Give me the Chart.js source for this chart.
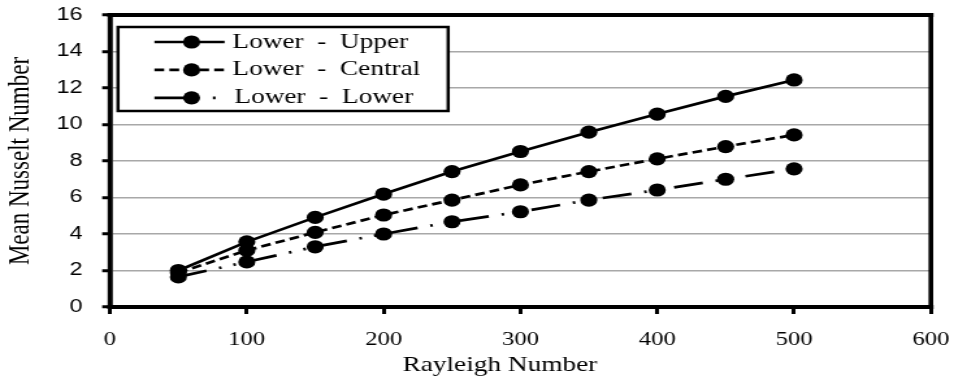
<!DOCTYPE html>
<html><head><meta charset="utf-8">
<script src="https://cdn.jsdelivr.net/npm/chart.js@4/dist/chart.umd.min.js"></script>
<style>
html,body{margin:0;padding:0;background:#fff;overflow:hidden}
#wrap{width:734px;height:378px;transform:scaleX(1.29973);transform-origin:0 0}
canvas{display:block}
</style></head><body>
<div id="wrap"><canvas id="c" width="734" height="378"></canvas></div>
<script>
// ---- data ----
const rayleigh     = [50, 100, 150, 200, 250, 300, 350, 400, 450, 500];
const lowerUpper   = [2.00, 3.57, 4.91, 6.19, 7.42, 8.52, 9.58, 10.57, 11.54, 12.44];
const lowerCentral = [1.88, 3.10, 4.09, 5.04, 5.86, 6.69, 7.42, 8.12, 8.79, 9.43];
const lowerLower   = [1.65, 2.47, 3.30, 4.00, 4.67, 5.22, 5.86, 6.41, 7.00, 7.57];
const seriesNames  = ['Lower  -  Upper', 'Lower  -  Central', 'Lower  -  Lower'];
const xAxisTitle = 'Rayleigh Number';
const yAxisTitle = 'Mean Nusselt Number';
const xMin = 0, xMax = 600, xStep = 100;
const yMin = 0, yMax = 16, yStep = 2;

const toPts = ys => rayleigh.map((x, i) => ({x, y: ys[i]}));

const serif = '"Liberation Serif", "Times New Roman", serif';
const sans = '"Liberation Sans", Arial, sans-serif';

const legendDash = [[], [7.5, 4], [33, 12, 2, 20]];

const framePlugin = {
  id: 'frame',
  beforeDatasetsDraw(chart) {
    const {ctx, chartArea: a} = chart;
    ctx.save();
    ctx.strokeStyle = '#000';
    ctx.lineCap = 'square';
    ctx.lineWidth = 4;
    ctx.beginPath(); ctx.moveTo(a.left, a.top); ctx.lineTo(a.right, a.top); ctx.stroke();
    ctx.beginPath(); ctx.moveTo(a.left, a.bottom); ctx.lineTo(a.right, a.bottom); ctx.stroke();
    ctx.lineWidth = 3.6;
    ctx.beginPath(); ctx.moveTo(a.left, a.top); ctx.lineTo(a.left, a.bottom); ctx.stroke();
    ctx.beginPath(); ctx.moveTo(a.right, a.top); ctx.lineTo(a.right, a.bottom); ctx.stroke();
    ctx.restore();
  }
};

const boxLegend = {
  id: 'boxLegend',
  afterDatasetsDraw(chart) {
    const {ctx, chartArea: a} = chart;
    const x0 = a.left + 6.2, y0 = a.top + 12, w = 254, h = 84;
    ctx.save();
    ctx.fillStyle = '#fff';
    ctx.fillRect(x0, y0, w, h);
    ctx.lineWidth = 2.5;
    ctx.strokeStyle = '#000';
    ctx.strokeRect(x0, y0, w, h);
    chart.data.datasets.forEach((ds, i) => {
      const cy = y0 + 15 + i * 27.9;
      ctx.strokeStyle = ds.borderColor;
      ctx.fillStyle = ds.pointBackgroundColor;
      ctx.lineWidth = ds.borderWidth;
      ctx.setLineDash(legendDash[i]);
      ctx.beginPath(); ctx.moveTo(x0 + 28, cy); ctx.lineTo(x0 + 82, cy); ctx.stroke();
      ctx.setLineDash([]);
      ctx.beginPath(); ctx.ellipse(x0 + 56.6, cy, ds.pointRadius, ds.pointRadius, 0, 0, Math.PI * 2); ctx.fill();
      ctx.fillStyle = '#000';
      ctx.font = '21px ' + serif;
      ctx.textBaseline = 'middle';
      ctx.textAlign = 'left';
      ctx.fillText(ds.label, x0 + 88 + (i === 2 ? 1.5 : 0), cy);
    });
    ctx.restore();
  }
};

const common = {
  borderColor: '#000', backgroundColor: '#000',
  pointBackgroundColor: '#000', pointBorderColor: '#000',
  pointRadius: 6.6, pointBorderWidth: 0, pointHoverRadius: 6.6,
  borderWidth: 2.7, tension: 0, fill: false, showLine: true
};

new Chart(document.getElementById('c'), {
  type: 'scatter',
  data: {
    datasets: [
      Object.assign({label: seriesNames[0], data: toPts(lowerUpper), borderDash: []}, common),
      Object.assign({label: seriesNames[1], data: toPts(lowerCentral), borderDash: [7.5, 4]}, common),
      Object.assign({label: seriesNames[2], data: toPts(lowerLower), borderDash: [22.5, 10, 2, 9.5, 2, 10]}, common)
    ]
  },
  options: {
    responsive: false,
    animation: false,
    devicePixelRatio: 1,
    layout: {autoPadding: false, padding: {left: 0, top: 15, right: 17.8, bottom: 0}},
    plugins: {legend: {display: false}, tooltip: {enabled: false}},
    scales: {
      x: {
        type: 'linear', min: xMin, max: xMax,
        afterFit(s) { s.height = 71; s.paddingLeft = 0; s.paddingRight = 0; },
        ticks: {stepSize: xStep, color: '#000', padding: 15, font: {family: serif, size: 19}},
        grid: {display: true, drawOnChartArea: false, drawTicks: true, tickLength: 7, tickColor: '#000', tickWidth: 3},
        border: {display: true, color: '#000', width: 4},
        title: {display: true, text: xAxisTitle + '      ', color: '#000', font: {family: serif, size: 21}, padding: {top: 0, bottom: 0}}
      },
      y: {
        type: 'linear', min: yMin, max: yMax,
        afterFit(s) { s.width = 84.6; s.paddingTop = 0; s.paddingBottom = 0; },
        ticks: {stepSize: yStep, color: '#000', padding: 15, font: {family: sans, size: 18}},
        grid: {display: true, drawOnChartArea: true, color: '#a8a8a8', lineWidth: 1.5, drawTicks: true, tickLength: 6, tickColor: '#000', tickWidth: 3},
        border: {display: true, color: '#000', width: 3.6},
        title: {display: true, text: yAxisTitle, color: '#000', font: {family: serif, size: 23}, padding: {top: 2, bottom: 0}}
      }
    }
  },
  plugins: [framePlugin, boxLegend]
});
</script>
</body></html>
